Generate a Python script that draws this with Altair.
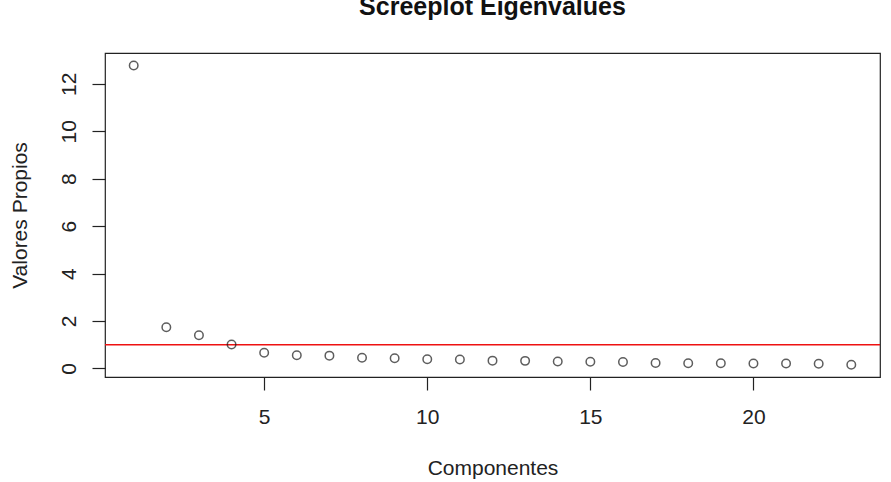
import altair as alt
import pandas as pd

componentes = list(range(1, 24))
valores_propios = [12.77, 1.74, 1.40, 1.01, 0.66, 0.56, 0.54, 0.45, 0.43, 0.39,
                   0.38, 0.33, 0.32, 0.29, 0.28, 0.27, 0.23, 0.22, 0.22, 0.21,
                   0.21, 0.20, 0.16]
x_ticks = [5, 10, 15, 20]
y_ticks = [0, 2, 4, 6, 8, 10, 12]
umbral = [1.0]
titulo = ["Screeplot Eigenvalues"]

df = pd.DataFrame({"Componentes": componentes, "Valores": valores_propios})
df_line = pd.DataFrame({"y": umbral})
df_title = pd.DataFrame({"t": titulo})

FONT = "Liberation Sans"
W, H = 775, 324

x_scale = alt.Scale(domain=[0.12, 23.88], nice=False, zero=False)
y_scale = alt.Scale(domain=[-0.36, 13.3], nice=False, zero=False)

points = alt.Chart(df).mark_point(
    shape="circle", filled=False, size=72, stroke="#1a1a1a", strokeWidth=1.5
).encode(
    x=alt.X("Componentes:Q", scale=x_scale,
            axis=alt.Axis(values=x_ticks, title="Componentes", grid=False, domain=False,
                          tickSize=13, tickColor="#222", tickWidth=1.2,
                          labelFontSize=21, labelFont=FONT, labelColor="#222",
                          labelBaseline="alphabetic", labelPadding=33,
                          titleFontSize=21, titleFont=FONT, titleFontWeight="normal",
                          titleColor="#222", titleBaseline="alphabetic",
                          titleX=W / 2, titleY=97, titleAnchor="middle")),
    y=alt.Y("Valores:Q", scale=y_scale,
            axis=alt.Axis(values=y_ticks, title="Valores Propios", grid=False, domain=False,
                          tickSize=13, tickColor="#222", tickWidth=1.2,
                          labelFontSize=21, labelFont=FONT, labelColor="#222",
                          labelAngle=270, labelAlign="center", labelBaseline="alphabetic",
                          labelPadding=17,
                          titleFontSize=21, titleFont=FONT, titleFontWeight="normal",
                          titleColor="#222", titleBaseline="alphabetic",
                          titleAngle=270, titleX=-79, titleY=H / 2, titleAnchor="middle")),
)

rule = alt.Chart(df_line).mark_rule(color="#ee1111", strokeWidth=1.5).encode(
    y=alt.Y("y:Q", scale=y_scale)
)

title = alt.Chart(df_title).mark_text(
    font=FONT, fontSize=25, fontWeight="bold", color="#111",
    align="center", baseline="alphabetic", clip=False
).encode(
    text="t:N", x=alt.value(W / 2), y=alt.value(-38)
)

chart = alt.layer(rule, points, title).properties(
    width=W, height=H,
    autosize=alt.AutoSizeParams(type="none"),
    padding={"left": 105, "top": 53, "right": 11, "bottom": 105},
).configure_view(stroke="#222", strokeWidth=1.2)

chart.save("out.html", embed_options={"renderer": "svg", "actions": False})
